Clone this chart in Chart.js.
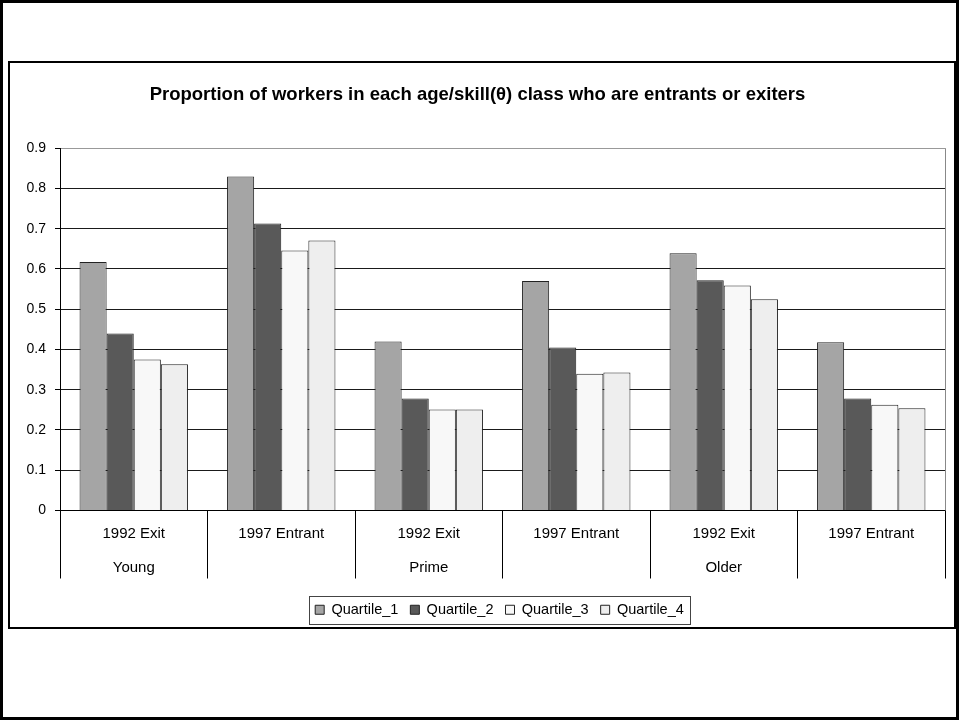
<!DOCTYPE html>
<html>
<head>
<meta charset="utf-8">
<script src="https://cdn.jsdelivr.net/npm/chart.js@4.4.0/dist/chart.umd.min.js"></script>
<style>
  body { margin: 0; background: #fff; }
</style>
</head>
<body>
<canvas id="c" width="960" height="721"></canvas>
<script>
// categories: first line = year/type, second line = age group
const categories = [
  ['1992 Exit', 'Young'], ['1997 Entrant', ''],
  ['1992 Exit', 'Prime'], ['1997 Entrant', ''],
  ['1992 Exit', 'Older'], ['1997 Entrant', '']
];
const seriesNames = ['Quartile_1', 'Quartile_2', 'Quartile_3', 'Quartile_4'];
const quartile1 = [0.617, 0.830, 0.420, 0.570, 0.639, 0.418];
const quartile2 = [0.440, 0.713, 0.278, 0.405, 0.572, 0.278];
const quartile3 = [0.375, 0.646, 0.251, 0.340, 0.559, 0.263];
const quartile4 = [0.363, 0.671, 0.251, 0.343, 0.525, 0.254];
const yTicks = [0, 0.1, 0.2, 0.3, 0.4, 0.5, 0.6, 0.7, 0.8, 0.9];

const fills = ['#a5a5a5', '#595959', '#f8f8f8', '#eeeeee'];
const FONT = '"Liberation Sans", Arial, sans-serif';
const LEGEND_SHIFT = 22; // legend sits a bit right of centre in the original

// frame boxes + extra borders drawn by hand
const framePlugin = {
  id: 'frame',
  afterLayout(chart) {
    const lg = chart.legend;
    lg.left += LEGEND_SHIFT;
    lg.right += LEGEND_SHIFT;
    lg.legendHitBoxes.forEach(h => { h.left += LEGEND_SHIFT; });
  },
  beforeDraw(chart) {
    const ctx = chart.ctx;
    ctx.save();
    ctx.fillStyle = '#fff';
    ctx.fillRect(0, 0, chart.width, chart.height);
    ctx.strokeStyle = '#000';
    ctx.lineWidth = 3;
    ctx.strokeRect(1.5, 1.5, 956, 717);
    ctx.lineWidth = 2;
    ctx.strokeRect(9, 62, 946, 566);
    ctx.restore();
  },
  afterDraw(chart) {
    const ctx = chart.ctx;
    const a = chart.chartArea;
    ctx.save();
    // right edge of plot area
    ctx.strokeStyle = '#888';
    ctx.lineWidth = 1;
    ctx.beginPath();
    ctx.moveTo(Math.round(a.right) + 0.5, a.top);
    ctx.lineTo(Math.round(a.right) + 0.5, a.bottom);
    ctx.stroke();
    // legend border
    const boxes = chart.legend.legendHitBoxes;
    if (boxes && boxes.length) {
      let l = Infinity, r = -Infinity, t = Infinity, b = -Infinity;
      boxes.forEach(h => {
        l = Math.min(l, h.left); r = Math.max(r, h.left + h.width);
        t = Math.min(t, h.top); b = Math.max(b, h.top + h.height);
      });
      ctx.strokeStyle = '#444';
      ctx.strokeRect(Math.round(l - 6) + 0.5, Math.round(t - 7) + 0.5, Math.round(r - l + 12), Math.round(b - t + 13));
    }
    ctx.restore();
  }
};

const datasets = [quartile1, quartile2, quartile3, quartile4].map((vals, i) => ({
  label: seriesNames[i],
  data: vals,
  backgroundColor: fills[i],
  borderColor: '#222',
  borderWidth: 1,
  borderSkipped: 'bottom',
  barPercentage: 1.0,
  categoryPercentage: 0.735
}));

new Chart(document.getElementById('c'), {
  type: 'bar',
  data: { labels: categories, datasets: datasets },
  plugins: [framePlugin],
  options: {
    responsive: false,
    animation: false,
    layout: { padding: { left: 10, right: 15, top: 60, bottom: 94 } },
    plugins: {
      title: {
        display: true,
        text: 'Proportion of workers in each age/skill(θ) class who are entrants or exiters',
        color: '#000',
        font: { family: FONT, size: 18.5, weight: 'bold' },
        padding: { top: 24, bottom: 42 }
      },
      legend: {
        position: 'bottom',
        labels: {
          color: '#000',
          font: { family: FONT, size: 14.5 },
          boxWidth: 9,
          boxHeight: 9,
          padding: 12
        }
      },
      tooltip: { enabled: false }
    },
    scales: {
      x: {
        grid: {
          offset: true,
          drawOnChartArea: false,
          drawTicks: true,
          tickLength: 68,
          color: '#000',
          lineWidth: 1
        },
        border: { display: true, color: '#000', width: 1 },
        ticks: {
          color: '#000',
          font: { family: FONT, size: 15, lineHeight: 2.27 },
          padding: -62,
          maxRotation: 0,
          autoSkip: false
        },
        afterFit(scale) { scale.height = 80; }
      },
      y: {
        min: 0,
        max: 0.9,
        afterBuildTicks(scale) { scale.ticks = yTicks.map(v => ({ value: v })); },
        ticks: {
          color: '#000',
          font: { family: FONT, size: 14 },
          padding: 9,
          callback: v => String(Math.round(v * 10) / 10)
        },
        grid: {
          color: ctx => (ctx.tick && ctx.tick.value >= 0.9 ? '#999' : '#1a1a1a'),
          tickColor: '#000',
          tickLength: 5,
          lineWidth: 1
        },
        border: { display: true, color: '#000', width: 1 },
        afterFit(scale) { scale.width = 50; }
      }
    }
  }
});
</script>
</body>
</html>
